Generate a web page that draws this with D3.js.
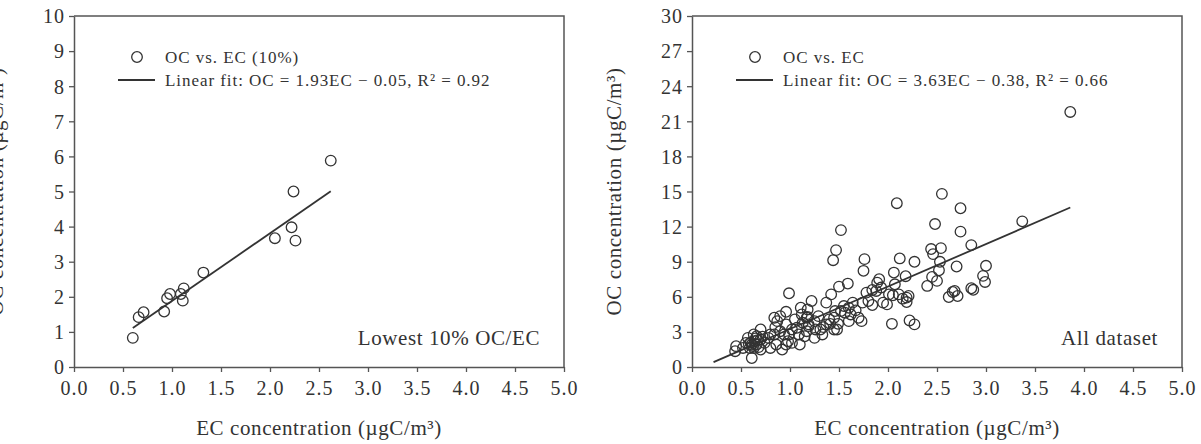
<!DOCTYPE html>
<html>
<head>
<meta charset="utf-8">
<script src="https://cdn.jsdelivr.net/npm/d3@7"></script>
<style>
  body { margin: 0; background: #fff; }
  text { font-family: "Liberation Serif", "Times New Roman", serif; fill: #333; }
</style>
</head>
<body>
<div id="chart"></div>
<script>
// lowest 10% OC/EC subset
var ecLow = [0.60, 0.66, 0.71, 0.92, 0.95, 0.98, 1.09, 1.11, 1.12, 1.32, 2.05, 2.22, 2.26, 2.24, 2.62];
var ocLow = [0.83, 1.42, 1.56, 1.58, 1.96, 2.08, 2.08, 1.89, 2.24, 2.69, 3.67, 3.98, 3.60, 5.00, 5.88];

// whole dataset
var ecAll = [3.86, 3.37, 2.55, 2.09, 2.74, 2.48, 1.52, 2.74, 2.85, 2.54, 2.44, 2.46, 1.47, 1.44, 1.76,
    1.75, 2.12, 2.27, 2.53, 2.52, 3.00, 2.97, 2.99, 2.70, 2.45, 2.50, 2.40, 2.06, 2.18, 1.91,
    1.93, 1.84, 2.07, 1.59, 1.50, 1.42, 0.99, 2.68, 2.66, 2.71, 2.62, 2.85, 2.87, 2.05, 2.04,
    2.22, 2.27, 2.19, 2.19, 1.99, 1.84, 1.78, 1.74, 1.67, 1.70, 1.62, 1.60, 1.55, 1.52, 1.49,
    1.48, 1.40, 1.37, 1.34, 1.37, 1.22, 1.18, 1.11, 1.12, 1.18, 1.25, 1.33, 1.26, 1.19, 1.13,
    1.17, 1.09, 1.10, 1.07, 1.02, 0.96, 0.96, 0.99, 0.98, 0.92, 0.96, 0.90, 0.87, 0.85, 0.84,
    0.78, 0.74, 0.70, 0.70, 0.64, 0.61, 0.57, 0.63, 0.61, 0.55, 0.59, 0.45, 0.44, 0.52, 0.66,
    0.70, 0.80, 0.86, 0.63, 0.66, 1.17, 1.29, 1.45, 1.56, 1.41, 1.05, 1.02, 1.15, 1.25, 1.31,
    1.45, 1.19, 1.73, 1.80, 1.88, 1.89, 2.01, 2.11, 2.15, 2.21, 1.95, 1.64, 1.46, 1.60, 0.90,
    0.84, 0.80, 0.94, 0.60, 0.62, 0.67, 0.58, 0.65, 0.68, 0.72];
var ocAll = [21.8, 12.45, 14.8, 14.0, 13.57, 12.22, 11.7, 11.57, 10.42, 10.16, 10.08, 9.65, 9.99, 9.13, 9.22,
    8.22, 9.28, 8.99, 8.99, 8.27, 8.65, 7.79, 7.27, 8.59, 7.70, 7.36, 6.93, 8.07, 7.76, 7.50,
    6.79, 6.58, 7.07, 7.13, 6.87, 6.21, 6.30, 6.50, 6.41, 6.07, 5.98, 6.73, 6.60, 6.13, 3.69,
    3.98, 3.64, 5.93, 5.55, 5.35, 5.30, 6.36, 5.50, 4.84, 4.21, 4.49, 3.92, 5.21, 4.78, 3.69,
    3.21, 4.07, 3.64, 3.41, 5.50, 5.64, 4.92, 5.07, 4.49, 4.27, 3.92, 2.78, 3.21, 3.64, 3.78,
    3.06, 2.78, 1.92, 3.35, 3.21, 4.72, 3.64, 2.78, 2.20, 1.49, 1.92, 3.06, 3.92, 3.41, 2.78,
    2.49, 2.06, 3.21, 2.35, 2.20, 1.92, 2.49, 1.63, 0.77, 2.06, 1.63, 1.78, 1.35, 1.63, 2.63,
    1.49, 1.63, 1.92, 2.78, 1.92, 4.21, 4.35, 4.21, 4.64, 3.69, 4.07, 2.06, 2.63, 2.49, 3.21,
    3.21, 3.49, 3.92, 5.64, 6.50, 7.21, 6.21, 6.21, 5.84, 6.07, 5.50, 5.50, 4.78, 5.07, 4.35,
    4.21, 2.78, 2.78, 2.10, 1.80, 2.30, 1.95, 2.45, 1.70, 2.60];

// linear fits: [slope, intercept, x start, x end]
var fitLow = [1.93, -0.05, 0.60, 2.62];
var fitAll = [3.63, -0.38, 0.22, 3.86];

var xTicks = [0, 0.5, 1, 1.5, 2, 2.5, 3, 3.5, 4, 4.5, 5];
var yTicksLow = [0, 1, 2, 3, 4, 5, 6, 7, 8, 9, 10];
var yTicksAll = [0, 3, 6, 9, 12, 15, 18, 21, 24, 27, 30];

var legendLow = ["OC vs. EC (10%)", "Linear fit: OC = 1.93EC \u2212 0.05, R\u00b2 = 0.92"];
var legendAll = ["OC vs. EC", "Linear fit: OC = 3.63EC \u2212 0.38, R\u00b2 = 0.66"];

var svg = d3.select("#chart")
    .append("svg")
    .attr("width", 1201)
    .attr("height", 444);

function drawPanel(left, ec, oc, fit, yMax, yTicks, legend, note) {
    var top = 16, width = 490, height = 351;
    var axisColor = "#555";

    var g = svg.append("g")
        .attr("transform", "translate(" + left + "," + top + ")");

    var x = d3.scaleLinear().domain([0, 5]).range([0, width]);
    var y = d3.scaleLinear().domain([0, yMax]).range([height, 0]);

    // frame (top and right edges)
    g.append("path")
        .attr("d", "M0,0H" + width + "V" + height)
        .attr("fill", "none")
        .attr("stroke", axisColor)
        .attr("stroke-width", 1.5);

    var xAxis = g.append("g")
        .attr("transform", "translate(0," + height + ")")
        .call(d3.axisBottom(x).tickValues(xTicks).tickFormat(d3.format(".1f")).tickSize(5).tickSizeOuter(0));
    var yAxis = g.append("g")
        .call(d3.axisLeft(y).tickValues(yTicks).tickSize(5).tickSizeOuter(0));

    [xAxis, yAxis].forEach(function (a) {
        a.select(".domain").attr("stroke", axisColor).attr("stroke-width", 1.5);
        a.selectAll(".tick line").attr("stroke", axisColor).attr("stroke-width", 1.3);
        a.selectAll(".tick text")
            .attr("fill", "#333")
            .style("font-family", "'Liberation Serif', serif")
            .style("font-size", "20px")
            .style("letter-spacing", "1px");
    });
    xAxis.selectAll(".tick text").attr("dy", "1.0em");
    yAxis.selectAll(".tick text").attr("x", -9).attr("dy", "0.34em");

    // axis titles
    g.append("text")
        .attr("x", width / 2)
        .attr("y", height + 68)
        .style("text-anchor", "middle")
        .style("font-size", "21px")
        .style("letter-spacing", "0.6px")
        .text("EC concentration (\u00b5gC/m\u00b3)");
    g.append("text")
        .attr("transform", "translate(" + (-71) + "," + (height / 2) + ") rotate(-90)")
        .style("text-anchor", "middle")
        .style("font-size", "21px")
        .style("letter-spacing", "0.6px")
        .text("OC concentration (\u00b5gC/m\u00b3)");

    // fit line
    var line = d3.line()
        .x(function (d) { return x(d); })
        .y(function (d) { return y(fit[0] * d + fit[1]); });
    g.append("path")
        .attr("d", line([fit[2], fit[3]]))
        .attr("fill", "none")
        .attr("stroke", "#333")
        .attr("stroke-width", 1.8);

    // points
    g.selectAll("circle.pt")
        .data(ec)
        .enter()
        .append("circle")
        .attr("class", "pt")
        .attr("cx", function (d) { return x(d); })
        .attr("cy", function (d, i) { return y(oc[i]); })
        .attr("r", 5.3)
        .attr("fill", "none")
        .attr("stroke", "#333")
        .attr("stroke-width", 1.3);

    // legend
    g.append("circle")
        .attr("cx", 63)
        .attr("cy", 41)
        .attr("r", 5.3)
        .attr("fill", "none")
        .attr("stroke", "#333")
        .attr("stroke-width", 1.3);
    g.append("line")
        .attr("x1", 44).attr("x2", 81)
        .attr("y1", 64).attr("y2", 64)
        .attr("stroke", "#333")
        .attr("stroke-width", 1.8);
    g.selectAll("text.leg")
        .data(legend)
        .enter()
        .append("text")
        .attr("class", "leg")
        .attr("x", 91)
        .attr("y", function (d, i) { return 47 + i * 23; })
        .style("font-size", "17px")
        .style("letter-spacing", "0.95px")
        .text(function (d) { return d; });

    // panel note
    g.append("text")
        .attr("x", width - 24)
        .attr("y", height - 22)
        .style("text-anchor", "end")
        .style("font-size", "21px")
        .style("letter-spacing", "0.6px")
        .text(note);
}

drawPanel(74, ecLow, ocLow, fitLow, 10, yTicksLow, legendLow, "Lowest 10% OC/EC");
drawPanel(692, ecAll, ocAll, fitAll, 30, yTicksAll, legendAll, "All dataset");
</script>
</body>
</html>
